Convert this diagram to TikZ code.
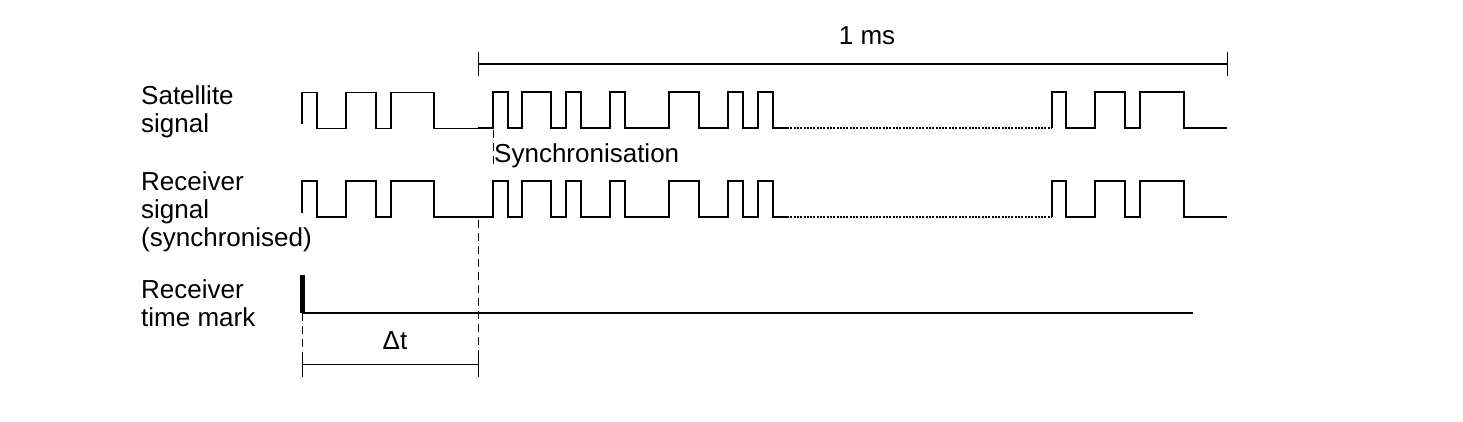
\documentclass[tikz,border=0pt]{standalone}
\usepackage{fontspec}
\setmainfont{Liberation Sans}
\newcommand\wavesig{%
  \draw[thinwave] (302,124) -- (302,92.5) -- (317,92.5) -- (317,128.5) -- (346,128.5) -- (346,92.5)
    -- (376,92.5) -- (376,128.5) -- (391,128.5) -- (391,92.5) -- (434,92.5) -- (434,128.5) -- (478,128.5);
  \draw[thickwave] (478,128.5) -- (493,128.5) -- (493,92.5) -- (508,92.5) -- (508,128.5) -- (522,128.5)
    -- (522,92.5) -- (551,92.5) -- (551,128.5) -- (566,128.5) -- (566,92.5) -- (581,92.5) -- (581,128.5)
    -- (610,128.5) -- (610,92.5) -- (625,92.5) -- (625,128.5) -- (669,128.5) -- (669,92.5) -- (699,92.5)
    -- (699,128.5) -- (728,128.5) -- (728,92.5) -- (743,92.5) -- (743,128.5) -- (758,128.5) -- (758,92.5)
    -- (773,92.5) -- (773,128.5) -- (787,128.5);
  \draw[dotwave] (787,128.5) -- (1052,128.5);
  \draw[thickwave] (1052,128.5) -- (1052,92.5) -- (1066,92.5) -- (1066,128.5) -- (1095,128.5) -- (1095,92.5)
    -- (1125,92.5) -- (1125,128.5) -- (1140,128.5) -- (1140,92.5) -- (1184,92.5) -- (1184,128.5) -- (1227,128.5);
}
\begin{document}
\begin{tikzpicture}[x=1pt,y=-1pt,
  lbl/.style={anchor=base west, inner sep=0pt, font=\fontsize{26}{29}\selectfont},
  clbl/.style={anchor=base, inner sep=0pt, font=\fontsize{26}{29}\selectfont},
  thinwave/.style={line width=1.3pt, line join=miter},
  thickwave/.style={line width=2pt, line join=miter},
  dotwave/.style={line width=2pt, dash pattern=on 2pt off 1.3pt},
  guide/.style={line width=1pt, dash pattern=on 8pt off 5pt},
  dimline/.style={line width=1.3pt},
  tickline/.style={line width=1pt},
]
\useasboundingbox (0,0) rectangle (1463,422);

% labels
\node[lbl] (sat1) at (141,105) {Satellite};
\node[lbl] (sat2) at (141,133) {signal};
\node[lbl] (rec1) at (141,190) {Receiver};
\node[lbl] (rec2) at (141,218) {signal};
\node[lbl] (rec3) at (141,246) {(synchronised)};
\node[lbl] (tm1) at (141,298) {Receiver};
\node[lbl] (tm2) at (141,326) {time mark};
\node[lbl] (sync) at (494,163) {Synchronisation};
\node[clbl] (ms) at (867,45) {1 ms};
\node[clbl] (dt) at (395,349) {Δt};

% waveforms
\wavesig
\begin{scope}[yshift=-88.5pt]
\wavesig
\end{scope}

% 1 ms dimension
\coordinate (msL) at (478,64);
\coordinate (msR) at (1227,64);
\draw[dimline] (msL) -- (msR);
\draw[tickline] ([yshift=12pt]msL) -- ([yshift=-12pt]msL);
\draw[tickline] ([yshift=12pt]msR) -- ([yshift=-12pt]msR);

% sync guide
\coordinate (syA) at (493,130);
\coordinate (syB) at (493,168);
\draw[guide] (syA) -- (syB);

% receiver time mark
\fill (300,275) rectangle (305,313);
\coordinate (tmL) at (302,313);
\coordinate (tmR) at (1193,313);
\draw[line width=1.3pt] (tmL) -- (tmR);

% delta t guides
\coordinate (gL1) at (302,313);
\coordinate (gL2) at (302,352);
\coordinate (gL3) at (302,377);
\coordinate (gR1) at (478,220);
\coordinate (gR2) at (478,352);
\coordinate (gR3) at (478,377);
\draw[guide] (gL1) -- (gL2);
\draw[guide] (gR1) -- (gR2);
\draw[tickline] (gL2) -- (gL3);
\draw[tickline] (gR2) -- (gR3);
\coordinate (dtL) at (302,364.5);
\coordinate (dtR) at (478,364.5);
\draw[dimline] (dtL) -- (dtR);
\end{tikzpicture}
\end{document}
